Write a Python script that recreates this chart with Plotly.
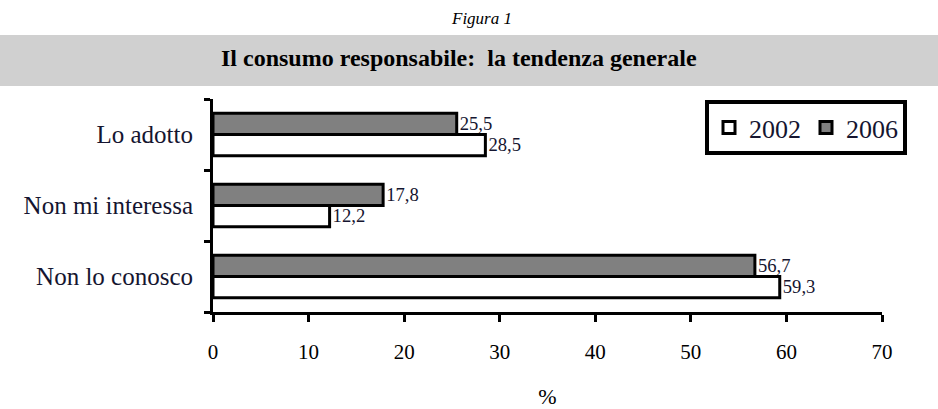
import plotly.graph_objects as go

categories = ["Non lo conosco", "Non mi interessa", "Lo adotto"]
values_2002 = [59.3, 12.2, 28.5]
values_2006 = [56.7, 17.8, 25.5]
labels_2002 = ["59,3", "12,2", "28,5"]
labels_2006 = ["56,7", "17,8", "25,5"]
x_ticks = [0, 10, 20, 30, 40, 50, 60, 70]

W, H = 938, 409
L, R, T, B = 213, 56, 99, 97
pw, ph = W - L - R, H - T - B

def px_x(x):
    return (x - L) / pw

def px_y(y):
    return (H - B - y) / ph

SERIF = "Liberation Serif"
LABEL_COLOR = "#151530"

fig = go.Figure()
fig.add_trace(go.Bar(
    y=categories, x=values_2002, name="2002", orientation="h",
    marker=dict(color="white", line=dict(color="black", width=3)),
    text=labels_2002, textposition="outside", cliponaxis=False,
    textfont=dict(family=SERIF, size=21, color=LABEL_COLOR),
))
fig.add_trace(go.Bar(
    y=categories, x=values_2006, name="2006", orientation="h",
    marker=dict(color="#808080", line=dict(color="black", width=3)),
    text=labels_2006, textposition="outside", cliponaxis=False,
    textfont=dict(family=SERIF, size=21, color=LABEL_COLOR),
))

fig.update_layout(
    width=W, height=H,
    margin=dict(l=L, r=R, t=T, b=B, autoexpand=False),
    paper_bgcolor="white", plot_bgcolor="white",
    barmode="group", bargap=0.4, bargroupgap=0,
    font=dict(family=SERIF, color="black"),
    showlegend=True,
    legend=dict(
        orientation="h", x=px_x(705), y=px_y(100), xanchor="left", yanchor="top",
        bordercolor="black", borderwidth=4, bgcolor="white",
        font=dict(family=SERIF, size=26, color=LABEL_COLOR),
        itemwidth=30, traceorder="normal",
    ),
    xaxis=dict(
        range=[0, 70], tickvals=x_ticks, ticktext=[str(v) for v in x_ticks],
        showgrid=False, zeroline=False, showline=True, linecolor="black", linewidth=3,
        ticks="outside", ticklen=7, tickwidth=3, tickcolor="black",
        ticklabelstandoff=12,
        tickfont=dict(family=SERIF, size=21, color="black"),
        title=dict(text="%", font=dict(family=SERIF, size=22, color="black"), standoff=34),
    ),
    yaxis=dict(
        categoryorder="array", categoryarray=categories,
        showgrid=False, showline=True, linecolor="black", linewidth=3,
        ticks="outside", ticklen=6, tickwidth=3, tickcolor="black",
        tickson="boundaries",
        ticklabelstandoff=12,
        tickfont=dict(family=SERIF, size=25, color=LABEL_COLOR),
    ),
    shapes=[dict(
        type="rect", xref="paper", yref="paper",
        x0=px_x(0), x1=px_x(W), y0=px_y(86), y1=px_y(35),
        fillcolor="#d0d0d0", line=dict(width=0), layer="below",
    )],
    annotations=[
        dict(text="<i>Figura 1</i>", xref="paper", yref="paper",
             x=px_x(481), y=px_y(19), xanchor="center", yanchor="middle", showarrow=False,
             font=dict(family=SERIF, size=17, color="black")),
        dict(text="<b>Il consumo responsabile:  la tendenza generale</b>", xref="paper", yref="paper",
             x=px_x(459), y=px_y(58), xanchor="center", yanchor="middle", showarrow=False,
             font=dict(family=SERIF, size=24, color="black")),
    ],
)

fig.write_html("out.html", config={"displayModeBar": False},
               post_script="document.body.style.margin='0';")
